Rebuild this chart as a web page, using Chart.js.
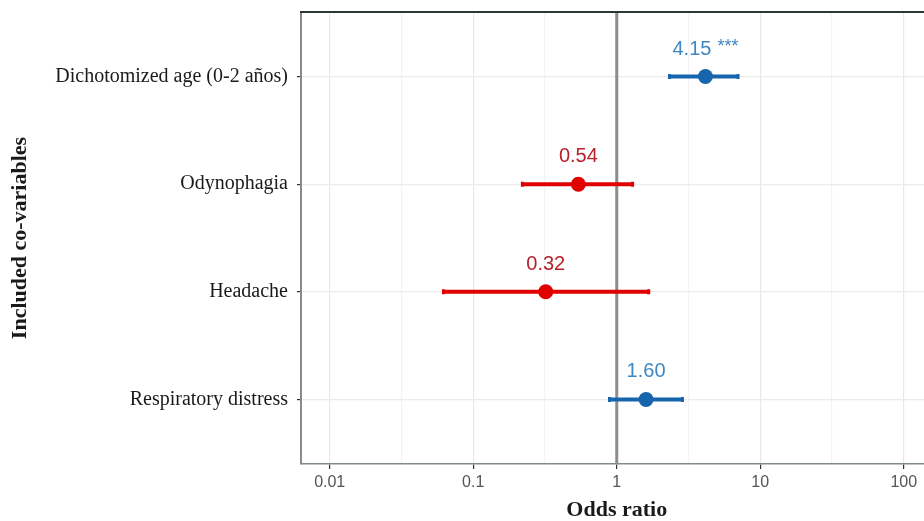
<!DOCTYPE html>
<html>
<head>
<meta charset="utf-8">
<script src="https://cdn.jsdelivr.net/npm/chart.js@4.4.1/dist/chart.umd.min.js"></script>
<style>
  html, body { margin: 0; padding: 0; background: #fff; overflow: hidden; }
  #wrap { width: 924px; height: 521px; overflow: hidden; }
</style>
</head>
<body>
<div id="wrap"><canvas id="forest" width="940" height="521"></canvas></div>
<script>
// ── Data ─────────────────────────────────────────────────────────────────
const ROWS    = ['Dichotomized age (0-2 años)', 'Odynophagia', 'Headache', 'Respiratory distress'];
const OR      = [4.15, 0.54, 0.32, 1.60];
const LOWER   = [2.33, 0.22, 0.062, 0.89];
const UPPER   = [7.0, 1.29, 1.67, 2.87];
const STARS   = ['***', '', '', ''];
const X_TICKS = [0.01, 0.1, 1, 10, 100];
const X_MINOR = [0.0316, 0.316, 3.16, 31.6];

const BLUE = '#1765ad', RED = '#e00000';
const BLUE_TXT = '#3f87c2', RED_TXT = '#b5222a';
const colOf  = v => v > 1 ? BLUE : RED;
const txtOf  = v => v > 1 ? BLUE_TXT : RED_TXT;
const SANS  = '"Liberation Sans", Arial, sans-serif';
const SERIF = '"Liberation Serif", "Times New Roman", serif';

const ciSets = ROWS.map((r, i) => ({
  label: r,
  data: [{ x: LOWER[i], y: i }, { x: UPPER[i], y: i }],
  showLine: true,
  borderColor: colOf(OR[i]),
  borderWidth: 4,
  pointStyle: 'line',
  rotation: 90,
  pointRadius: 2.5,
  pointBorderWidth: 3,
  pointBorderColor: colOf(OR[i]),
}));

const estSet = {
  label: 'OR',
  data: OR.map((v, i) => ({ x: v, y: i })),
  backgroundColor: OR.map(colOf),
  borderColor: OR.map(colOf),
  pointRadius: 7.5,
  borderWidth: 0,
};

// vertical reference at OR = 1, top frame line, value labels
const frame = {
  id: 'frame',
  beforeDatasetsDraw(chart) {
    const { ctx, chartArea: a, scales: { x } } = chart;
    const px = x.getPixelForValue(1);
    ctx.save();
    ctx.strokeStyle = '#8c8c8c'; ctx.lineWidth = 3;
    ctx.beginPath(); ctx.moveTo(px, a.top); ctx.lineTo(px, a.bottom); ctx.stroke();
    ctx.strokeStyle = '#263838'; ctx.lineWidth = 2;
    ctx.beginPath(); ctx.moveTo(a.left - 1, a.top); ctx.lineTo(a.right, a.top); ctx.stroke();
    ctx.restore();
  },
  afterDatasetsDraw(chart) {
    const { ctx, scales: { x, y } } = chart;
    ctx.save();
    ctx.textBaseline = 'alphabetic';
    ctx.textAlign = 'left';
    OR.forEach((v, i) => {
      const num = v.toFixed(2);
      const px = x.getPixelForValue(v), py = y.getPixelForValue(i) - 22;
      ctx.font = '20px ' + SANS;
      const wNum = ctx.measureText(num).width;
      ctx.font = '18px ' + SANS;
      const gap = STARS[i] ? 6 : 0;
      const wStar = STARS[i] ? ctx.measureText(STARS[i]).width : 0;
      const x0 = px - (wNum + gap + wStar) / 2;
      ctx.fillStyle = txtOf(v);
      ctx.font = '20px ' + SANS;
      ctx.fillText(num, x0, py);
      if (STARS[i]) {
        ctx.font = '18px ' + SANS;
        ctx.fillText(STARS[i], x0 + wNum + gap, py - 3);
      }
    });
    ctx.restore();
  }
};

new Chart(document.getElementById('forest'), {
  type: 'scatter',
  data: { datasets: [...ciSets, estSet] },
  plugins: [frame],
  options: {
    responsive: false,
    animation: false,
    devicePixelRatio: 1,
    layout: { padding: { top: 12, right: 5, left: 0, bottom: 0 } },
    plugins: { legend: { display: false }, tooltip: { enabled: false } },
    scales: {
      x: {
        type: 'logarithmic',
        min: 0.00631, max: 158.5,
        afterBuildTicks: s => { s.ticks = [...X_TICKS, ...X_MINOR].sort((a, b) => a - b).map(v => ({ value: v })); },
        afterFit: s => { s.height = 57; s.paddingLeft = 0; s.paddingRight = 0; },
        ticks: {
          autoSkip: false, maxRotation: 0, padding: 4,
          color: '#555', font: { family: SANS, size: 16 },
          callback: v => X_TICKS.includes(v) ? String(v) : '',
        },
        grid: {
          color: c => X_TICKS.includes(c.tick.value) ? '#e8e8e8' : '#f3f3f3',
          tickColor: c => X_TICKS.includes(c.tick.value) ? '#333' : 'rgba(0,0,0,0)',
          tickLength: 5, lineWidth: 1.2,
        },
        border: { color: '#7f8a8a', width: 1.5 },
        title: {
          display: true, text: 'Odds ratio', color: '#1a1a1a',
          font: { family: SERIF, size: 22, weight: 'bold', lineHeight: 1 },
          padding: { top: 0, bottom: 0 },
        },
      },
      y: {
        type: 'linear',
        reverse: true,
        min: -0.6, max: 3.6,
        afterBuildTicks: s => { s.ticks = ROWS.map((_, i) => ({ value: i })); },
        afterFit: s => { s.width = 301; s.paddingTop = 0; s.paddingBottom = 0; },
        ticks: {
          autoSkip: false, padding: 9, color: '#1a1a1a',
          font: { family: SERIF, size: 20 },
          callback: v => ROWS[v],
        },
        grid: { color: '#ebebeb', tickColor: '#333', tickLength: 4, lineWidth: 1.2 },
        border: { color: '#8a8a8a', width: 2 },
        title: {
          display: true, text: 'Included co-variables', color: '#1a1a1a',
          font: { family: SERIF, size: 22, weight: 'bold' },
          padding: { top: 7, bottom: 0 },
        },
      },
    },
  },
});
</script>
</body>
</html>
